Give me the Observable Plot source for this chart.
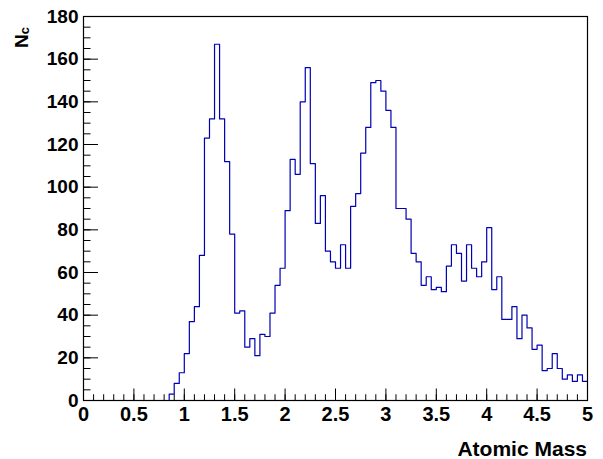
<!DOCTYPE html>
<html><head><meta charset="utf-8">
<script src="https://cdn.jsdelivr.net/npm/d3@7"></script>
<script src="https://cdn.jsdelivr.net/npm/@observablehq/plot@0.6"></script>
<style>body{margin:0;background:#fff} svg{display:block}</style>
</head><body><div id="chart"></div>
<script>
// ---- data ----
const xMin = 0, xMax = 5, binWidth = 0.05;
const counts = [
  0,0,0,0,0,0,0,0,0,0,
  0,0,0,0,0,0,0,3,8,13,
  22,37,44,68,123,132,167,132,112,78,
  41,42,25,29,21,31,30,41,54,62,
  89,113,106,140,156,111,83,96,70,65,
  62,73,62,91,97,116,128,149,150,145,
  136,128,90,90,85,69,65,54,58,52,
  53,51,63,73,69,56,73,62,58,65,
  81,52,58,38,38,44,29,40,34,24,
  26,14,15,22,15,10,12,9,12,9
];
const xMajorTicks = [0, 0.5, 1, 1.5, 2, 2.5, 3, 3.5, 4, 4.5, 5];
const xMinorTicks = d3.range(0, 51).map(i => i / 10);
const yMajorTicks = [0, 20, 40, 60, 80, 100, 120, 140, 160, 180];
const yMinorTicks = d3.range(0, 37).map(i => i * 5);
const xTitle = "Atomic Mass";
const yTitle = "N", yTitleSub = "c";

// histogram outline points (bin low edges + final edge)
const steps = counts.map((c, i) => ({x: xMin + i * binWidth, y: c}));
steps.push({x: xMax, y: counts[counts.length - 1]});

const W = 603, H = 459, mL = 83, mR = 16, mT = 16, mB = 59;
const plotW = W - mL - mR, plotH = H - mT - mB;
const font = "'Liberation Sans', Arial, Helvetica, sans-serif";

const chart = Plot.plot({
  width: W, height: H,
  marginLeft: mL, marginRight: mR, marginTop: mT, marginBottom: mB,
  style: {fontFamily: font, fontWeight: "bold", background: "#fff", color: "#000", overflow: "visible"},
  x: {domain: [xMin, xMax]},
  y: {domain: [0, 180]},
  marks: [
    Plot.line(steps, {x: "x", y: "y", curve: "step-after", stroke: "#0000b4", strokeWidth: 1.2}),
    Plot.ruleX(xMinorTicks, {x: d => d, insetTop: plotH - 5.75, stroke: "#000", strokeWidth: 1}),
    Plot.ruleX(xMajorTicks, {x: d => d, insetTop: plotH - 11.5, stroke: "#000", strokeWidth: 1}),
    Plot.ruleY(yMinorTicks, {y: d => d, insetRight: plotW - 7.5, stroke: "#000", strokeWidth: 1}),
    Plot.ruleY(yMajorTicks, {y: d => d, insetRight: plotW - 15, stroke: "#000", strokeWidth: 1}),
    Plot.frame({stroke: "#000", strokeWidth: 1.2}),
    Plot.axisX({ticks: xMajorTicks, tickSize: 0, tickPadding: 6, fontSize: 20, fontWeight: "bold", label: null, tickFormat: d => String(d)}),
    Plot.axisY({ticks: yMajorTicks, tickSize: 0, tickPadding: 5, fontSize: 19, fontWeight: "bold", label: null, tickFormat: d => String(d)})
  ]
});

const svg = d3.select(chart);
svg.append("text")
  .attr("x", mL + plotW).attr("y", 456)
  .attr("text-anchor", "end")
  .attr("font-size", 21).attr("font-weight", "bold").attr("font-family", font)
  .text(xTitle);
const yt = svg.append("text")
  .attr("transform", "translate(28,27) rotate(-90)")
  .attr("text-anchor", "end")
  .attr("font-size", 19).attr("font-weight", "bold").attr("font-family", font);
yt.append("tspan").text(yTitle);
yt.append("tspan").attr("font-size", 13).attr("dy", 1).text(yTitleSub);

document.getElementById("chart").append(chart);
</script>
</body></html>
